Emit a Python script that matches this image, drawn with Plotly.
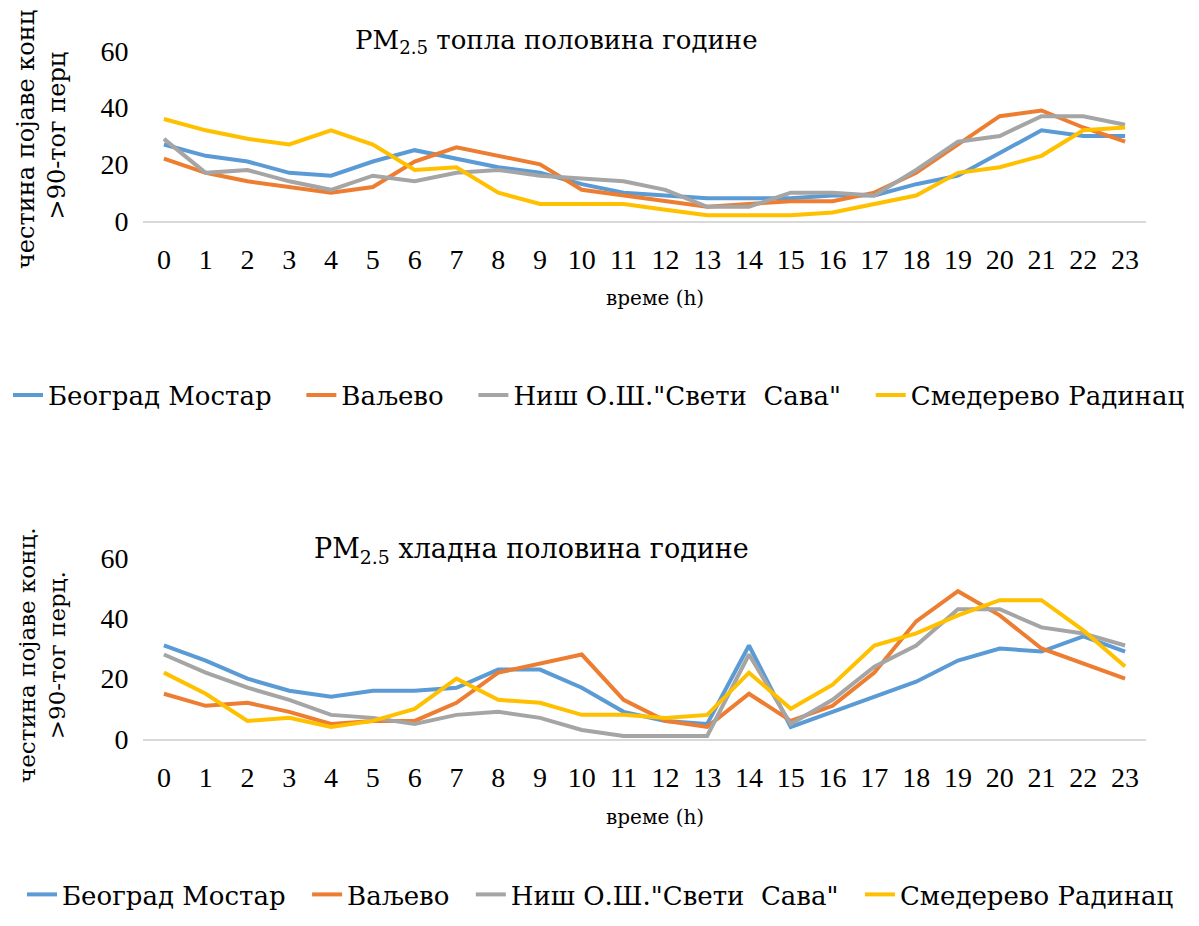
import plotly.graph_objects as go

hours = list(range(24))
tick_labels = [str(h) for h in hours]
series_names = ["Београд Мостар", "Ваљево", "Ниш О.Ш.\"Свети  Сава\"", "Смедерево Радинац"]
colors = ["#5B9BD5", "#ED7D31", "#A5A5A5", "#FFC000"]

# warm half of year
warm_beograd = [27, 23, 21, 17, 16, 21, 25, 22, 19, 17, 13, 10, 9, 8, 8, 8, 9, 9, 13, 16, 24, 32, 30, 30]
warm_valjevo = [22, 17, 14, 12, 10, 12, 21, 26, 23, 20, 11, 9, 7, 5, 6, 7, 7, 10, 17, 27, 37, 39, 33, 28]
warm_nis = [29, 17, 18, 14, 11, 16, 14, 17, 18, 16, 15, 14, 11, 5, 5, 10, 10, 9, 18, 28, 30, 37, 37, 34]
warm_smederevo = [36, 32, 29, 27, 32, 27, 18, 19, 10, 6, 6, 6, 4, 2, 2, 2, 3, 6, 9, 17, 19, 23, 32, 33]

# cold half of year
cold_beograd = [31, 26, 20, 16, 14, 16, 16, 17, 23, 23, 17, 9, 6, 5, 31, 4, 9, 14, 19, 26, 30, 29, 34, 29]
cold_valjevo = [15, 11, 12, 9, 5, 6, 6, 12, 22, 25, 28, 13, 6, 4, 15, 6, 11, 22, 39, 49, 41, 30, 25, 20]
cold_nis = [28, 22, 17, 13, 8, 7, 5, 8, 9, 7, 3, 1, 1, 1, 28, 5, 13, 24, 31, 43, 43, 37, 35, 31]
cold_smederevo = [22, 15, 6, 7, 4, 6, 10, 20, 13, 12, 8, 8, 7, 8, 22, 10, 18, 31, 35, 41, 46, 46, 36, 24]

warm = [warm_beograd, warm_valjevo, warm_nis, warm_smederevo]
cold = [cold_beograd, cold_valjevo, cold_nis, cold_smederevo]

OFF = 8  # page body margin
W, H = 1183, 910
NUMFONT = "Liberation Serif"
TXTFONT = "DejaVu Serif"
PAD1 = "\u00a0\u00a0\u00a0"
PAD2 = "\u00a0\u00a0"

fig = go.Figure()
for i, name in enumerate(series_names):
    fig.add_trace(go.Scatter(x=hours, y=warm[i], name=name + (PAD1 if i < 3 else ""), mode="lines",
                             line=dict(color=colors[i], width=4),
                             xaxis="x", yaxis="y", legend="legend"))
for i, name in enumerate(series_names):
    fig.add_trace(go.Scatter(x=hours, y=cold[i], name=name + (PAD2 if i < 3 else ""), mode="lines",
                             line=dict(color=colors[i], width=4),
                             xaxis="x2", yaxis="y2", legend="legend2"))

def px_x(p):
    return (p - OFF) / W

def px_y(p):
    return 1 - (p - OFF) / H

xdom = [px_x(143), px_x(1146)]
xcommon = dict(domain=xdom, range=[-0.5, 23.5], tickmode="array", tickvals=hours,
               ticktext=tick_labels, showgrid=False, zeroline=False, showline=True,
               linecolor="#d9d9d9", linewidth=1.5, ticks="outside", ticklen=13,
               tickcolor="rgba(0,0,0,0)", automargin=False,
               tickfont=dict(family=NUMFONT, size=28, color="#000"))
ycommon = dict(range=[0, 60], tickvals=[0, 20, 40, 60], showgrid=False, zeroline=False,
               showline=False, ticks="outside", ticklen=8, tickcolor="rgba(0,0,0,0)",
               automargin=False, tickfont=dict(family=NUMFONT, size=28, color="#000"))

fig.update_layout(
    width=W, height=H, margin=dict(l=0, r=0, t=0, b=0, autoexpand=False),
    paper_bgcolor="white", plot_bgcolor="white",
    font=dict(family=TXTFONT, color="#000"),
    xaxis=dict(**xcommon, anchor="y"),
    yaxis=dict(**ycommon, domain=[px_y(221), px_y(51)], anchor="x"),
    xaxis2=dict(**xcommon, anchor="y2"),
    yaxis2=dict(**ycommon, domain=[px_y(739), px_y(558)], anchor="x2"),
    legend=dict(orientation="h", x=0.0, xanchor="left", y=px_y(395), yanchor="middle",
                font=dict(family=TXTFONT, size=26, color="#000"), itemwidth=30,
                bgcolor="rgba(0,0,0,0)"),
    legend2=dict(orientation="h", x=px_x(22), xanchor="left", y=0.0, yanchor="bottom",
                 font=dict(family=TXTFONT, size=26, color="#000"), itemwidth=30,
                 bgcolor="rgba(0,0,0,0)"),
    showlegend=True,
)

ann = []
def add(text, x, y, size, angle=0, family=TXTFONT):
    ann.append(dict(text=text, x=px_x(x), y=px_y(y), xref="paper", yref="paper",
                    xanchor="center", yanchor="middle", showarrow=False, textangle=angle,
                    font=dict(family=family, size=size, color="#000")))

add("PM<sub>2.5</sub> топла половина године", 556, 42, 26)
add("PM<sub>2.5</sub> хладна половина године", 531, 550, 27)
add("време (h)", 655, 298, 20)
add("време (h)", 655, 817, 20)
add("честина појаве конц.<br>&gt;90-тог перц", 42, 136, 24, -90)
add("честина појаве конц.<br>&gt;90-тог перц.", 42, 655, 23, -90)
fig.update_layout(annotations=ann)

fig.write_html("out.html")
